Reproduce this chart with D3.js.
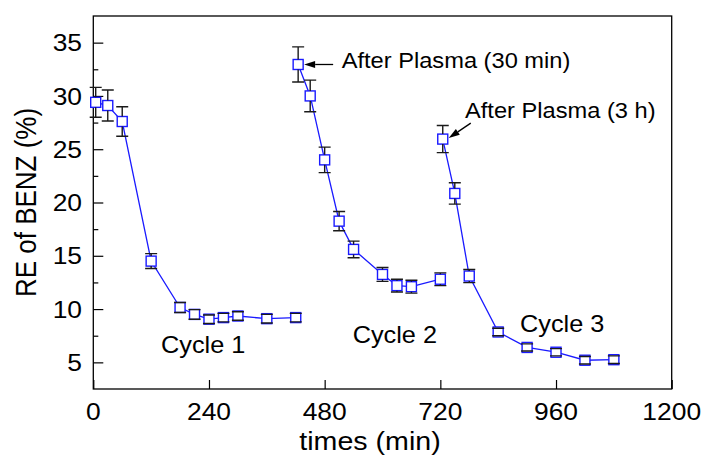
<!DOCTYPE html>
<html>
<head>
<meta charset="utf-8">
<script src="https://cdn.jsdelivr.net/npm/d3@7"></script>
<style>
  html, body { margin: 0; padding: 0; background: #fff; }
  svg { display: block; }
  text { font-family: "Liberation Sans", Arial, sans-serif; fill: #000; }
</style>
</head>
<body>
<svg id="chart" width="705" height="457"></svg>
<script>
// ---- data ----
const time1 = [5, 30, 60, 120, 180, 210, 240, 270, 300, 360, 420];
const re1   = [29.4, 29.1, 27.6, 14.5, 10.15, 9.5, 9.05, 9.2, 9.35, 9.1, 9.2];
const err1  = [1.4, 1.45, 1.38, 0.7, 0.47, 0.45, 0.4, 0.4, 0.4, 0.4, 0.4];

const time2 = [425, 450, 480, 510, 540, 600, 630, 660, 720];
const re2   = [32.95, 30.0, 24.0, 18.25, 15.6, 13.25, 12.2, 12.1, 12.8];
const err2  = [1.65, 1.48, 1.2, 0.9, 0.78, 0.65, 0.6, 0.6, 0.6];

const time3 = [725, 750, 780, 840, 900, 960, 1020, 1080];
const re3   = [25.95, 20.85, 13.1, 7.85, 6.4, 5.95, 5.2, 5.25];
const err3  = [1.27, 1.0, 0.62, 0.35, 0.33, 0.34, 0.35, 0.36];

const xTicks = [0, 240, 480, 720, 960, 1200];
const yTicks = [5, 10, 15, 20, 25, 30, 35];
const yMinorTicks = [7.5, 12.5, 17.5, 22.5, 27.5, 32.5];

const cycleLabels = ["Cycle 1", "Cycle 2", "Cycle 3"];
const annotations = ["After Plasma (30 min)", "After Plasma (3 h)"];

// ---- layout ----
const W = 705, H = 457;
const L = 93.3, R = 671.7, T = 16, B = 389;
const SX = 1.1; // horizontal text stretch seen in the reference

const svg = d3.select("#chart");
const x = d3.scaleLinear().domain([0, 1200]).range([L, R]);
const y = d3.scaleLinear().domain([2.5, 37.5]).range([B, T]);

function txt(px, py, s, size, anchor, rot) {
  return svg.append("text")
    .attr("transform", `translate(${px},${py}) scale(${SX},1)` + (rot ? ` rotate(${rot})` : ""))
    .attr("text-anchor", anchor || "start")
    .style("font-size", size + "px")
    .text(s);
}

// ---- axes ----
const xAxis = d3.axisBottom(x).tickValues(xTicks).tickSize(-9).tickPadding(0).tickFormat(d3.format("d"));
const yAxis = d3.axisLeft(y).tickValues(yTicks).tickSize(-10).tickFormat(d3.format("d"));
const yMinor = d3.axisLeft(y).tickValues(yMinorTicks).tickSize(-5).tickFormat("");

const gx = svg.append("g").attr("transform", `translate(0,${B})`).call(xAxis);
const gy = svg.append("g").attr("transform", `translate(${L},0)`).call(yAxis);
const gym = svg.append("g").attr("transform", `translate(${L},0)`).call(yMinor);
[gx, gy, gym].forEach(g => {
  g.select(".domain").remove();
  g.selectAll(".tick line").attr("stroke", "#000").attr("stroke-width", 1.2);
});
// tick labels: re-draw with stretch
gx.selectAll(".tick text").remove();
gy.selectAll(".tick text").remove();
xTicks.forEach(v => txt(x(v), 420, String(v), 24, "middle"));
yTicks.forEach(v => txt(82, y(v) + 8.6, String(v), 24, "end"));
// hide 1200 tick line at right edge (frame covers it)

// frame
svg.append("rect").attr("x", L).attr("y", T).attr("width", R - L).attr("height", B - T)
  .attr("fill", "none").attr("stroke", "#000").attr("stroke-width", 1.3);

// axis titles
txt(370, 450, "times (min)", 26, "middle");
txt(36, (T + B) / 2, "RE of BENZ (%)", 26, "middle", -90);

// ---- series ----
const series = [
  { t: time1, v: re1, e: err1 },
  { t: time2, v: re2, e: err2 },
  { t: time3, v: re3, e: err3 }
];
const blue = "#1a1aff";
const line = d3.line().x(d => x(d.t)).y(d => y(d.v));
const half = 5, cap = 6;

series.forEach(s => {
  const pts = s.t.map((t, i) => ({ t, v: s.v[i], e: s.e[i] }));
  svg.append("path").datum(pts).attr("d", line)
    .attr("fill", "none").attr("stroke", blue).attr("stroke-width", 1.3);
  svg.selectAll(null).data(pts).enter().append("rect")
    .attr("x", d => x(d.t) - half).attr("y", d => y(d.v) - half)
    .attr("width", 2 * half).attr("height", 2 * half)
    .attr("fill", "#fff").attr("stroke", blue).attr("stroke-width", 1.4);
  const eb = svg.append("g").attr("stroke", "#1a1a1a").attr("stroke-width", 1.4).attr("fill", "none");
  pts.forEach(d => {
    const cx = x(d.t), yt = y(d.v + d.e), yb = y(d.v - d.e), yc = y(d.v);
    let p = `M${cx - cap},${yt}H${cx + cap}M${cx - cap},${yb}H${cx + cap}`;
    if (yc - half - yt > 0) p += `M${cx},${yt}V${yc - half}`;
    if (yb - (yc + half) > 0) p += `M${cx},${yc + half}V${yb}`;
    eb.append("path").attr("d", p);
  });
});

// ---- annotations ----
function arrow(x1, y1, x2, y2) {
  const ang = Math.atan2(y2 - y1, x2 - x1), len = 11, w = 3.5;
  const bx = x2 - len * Math.cos(ang), by = y2 - len * Math.sin(ang);
  svg.append("line").attr("x1", x1).attr("y1", y1).attr("x2", bx).attr("y2", by)
    .attr("stroke", "#000").attr("stroke-width", 1.3);
  const px = -Math.sin(ang) * w, py = Math.cos(ang) * w;
  svg.append("path").attr("d", `M${x2},${y2}L${bx + px},${by + py}L${bx - px},${by - py}Z`).attr("fill", "#000");
}
const a1x = x(time2[0]), a1y = y(re2[0]);
arrow(a1x + 35, a1y, a1x + 6, a1y);
txt(341.7, 68.3, annotations[0], 21.5, "start");
const a2x = x(time3[0]), a2y = y(re3[0]);
arrow(a2x + 28, a2y - 16, a2x + 6, a2y - 1);
txt(465, 118.3, annotations[1], 21.5, "start");

txt(161, 352.7, cycleLabels[0], 23, "start");
txt(352.7, 343.3, cycleLabels[1], 23, "start");
txt(520, 331.7, cycleLabels[2], 23, "start");
</script>
</body>
</html>
